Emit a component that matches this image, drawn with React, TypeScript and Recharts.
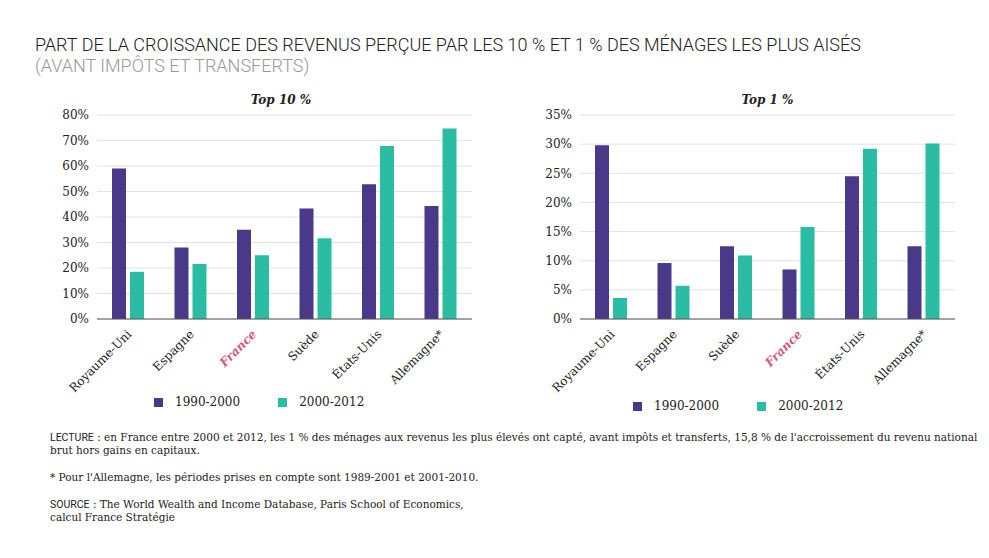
import React from 'react';
import { BarChart, Bar, XAxis, YAxis, CartesianGrid } from 'recharts';

const countries10 = ['Royaume-Uni', 'Espagne', 'France', 'Suède', 'États-Unis', 'Allemagne*'];
const top10a = [59, 28, 35, 43.3, 52.8, 44.3];
const top10b = [18.5, 21.6, 25, 31.7, 67.8, 74.7];
const ticks10 = [0, 10, 20, 30, 40, 50, 60, 70, 80];

const countries1 = ['Royaume-Uni', 'Espagne', 'Suède', 'France', 'États-Unis', 'Allemagne*'];
const top1a = [29.8, 9.6, 12.5, 8.5, 24.5, 12.5];
const top1b = [3.6, 5.7, 10.9, 15.8, 29.2, 30.1];
const ticks1 = [0, 5, 10, 15, 20, 25, 30, 35];

const PURPLE = '#4a3889';
const TEAL = '#2bbda3';
const SERIF = '"DejaVu Serif", serif';

const Tick = (props: any) => {
  const { x, y, payload } = props;
  const fr = payload.value === 'France';
  return (
    <text x={x + 4} y={y + 8} transform={`rotate(-45 ${x + 4} ${y + 8})`} textAnchor="end"
      fontFamily={SERIF} fontSize={12} fill={fr ? '#d2587e' : '#222'} fontStyle={fr ? 'italic' : 'normal'} fontWeight={fr ? 'bold' : 'normal'}>
      {payload.value}
    </text>
  );
};

function Panel(props: { left: number; names: string[]; a: number[]; b: number[]; ticks: number[]; title: string; yw: number }) {
  const data = props.names.map((n, i) => ({ name: n, a: props.a[i], b: props.b[i] }));
  const max = props.ticks[props.ticks.length - 1];
  return (
    <div style={{ position: 'absolute', left: props.left, top: 95, width: 450, height: 330 }}>
      <div style={{ position: 'absolute', top: -2, left: props.yw, width: 450 - props.yw - 15, textAlign: 'center', fontFamily: SERIF, fontStyle: 'italic', fontWeight: 'bold', fontSize: 12, color: '#222' }}>{props.title}</div>
      <BarChart width={450} height={330} data={data} margin={{ top: 20, right: 450 - props.yw - 375, left: 0, bottom: 10 }} barSize={14} barGap={4}>
        <CartesianGrid vertical={false} stroke="#e2e2e2" />
        <XAxis dataKey="name" tick={<Tick />} tickLine={false} axisLine={{ stroke: '#555' }} height={96} interval={0} />
        <YAxis width={props.yw} domain={[0, max]} ticks={props.ticks} axisLine={false} tickLine={false}
          tickFormatter={(v: number) => v + '%'} tick={{ fontFamily: SERIF, fontSize: 12, fill: '#222' }} />
        <Bar dataKey="a" fill={PURPLE} isAnimationActive={false} />
        <Bar dataKey="b" fill={TEAL} isAnimationActive={false} />
      </BarChart>
    </div>
  );
}

const Legend = ({ left, top }: { left: number; top: number }) => (
  <div style={{ position: 'absolute', left, top, fontFamily: SERIF, fontSize: 12, color: '#222', display: 'flex', alignItems: 'center' }}>
    <span style={{ width: 9, height: 9, background: PURPLE, display: 'inline-block', marginRight: 12 }} />1990-2000
    <span style={{ width: 9, height: 9, background: TEAL, display: 'inline-block', marginLeft: 38, marginRight: 12 }} />2000-2012
  </div>
);

export default function App() {
  const foot: React.CSSProperties = { position: 'absolute', left: 50, fontFamily: SERIF, fontSize: 10.5, color: '#222', fontWeight: 'normal', lineHeight: '13px' };
  const label: React.CSSProperties = { fontFamily: 'Roboto, sans-serif', fontWeight: 400, textTransform: 'uppercase' };
  return (
    <div style={{ position: 'relative', width: 989, height: 558, background: '#fff', margin: -8 }}>
      <div style={{ position: 'absolute', left: 35, top: 34, fontFamily: 'Roboto, sans-serif', fontWeight: 300, fontSize: 18, color: '#222', lineHeight: '21px' }}>
        PART DE LA CROISSANCE DES REVENUS PERÇUE PAR LES 10 % ET 1 % DES MÉNAGES LES PLUS AISÉS
        <div style={{ color: '#999' }}>(AVANT IMPÔTS ET TRANSFERTS)</div>
      </div>
      <Panel left={30} names={countries10} a={top10a} b={top10b} ticks={ticks10} title="Top 10 %" yw={67} />
      <Panel left={520} names={countries1} a={top1a} b={top1b} ticks={ticks1} title="Top 1 %" yw={60} />
      <Legend left={154} top={395} />
      <Legend left={633} top={399} />
      <div style={{ ...foot, top: 431, width: 935 }}>
        <span style={label}>Lecture</span> : en France entre 2000 et 2012, les 1 % des ménages aux revenus les plus élevés ont capté, avant impôts et transferts, 15,8 % de l'accroissement du revenu national brut hors gains en capitaux.
      </div>
      <div style={{ ...foot, top: 471 }}>* Pour l'Allemagne, les périodes prises en compte sont 1989-2001 et 2001-2010.</div>
      <div style={{ ...foot, top: 498 }}>
        <span style={label}>Source</span> : The World Wealth and Income Database, Paris School of Economics,<br />calcul France Stratégie
      </div>
    </div>
  );
}
